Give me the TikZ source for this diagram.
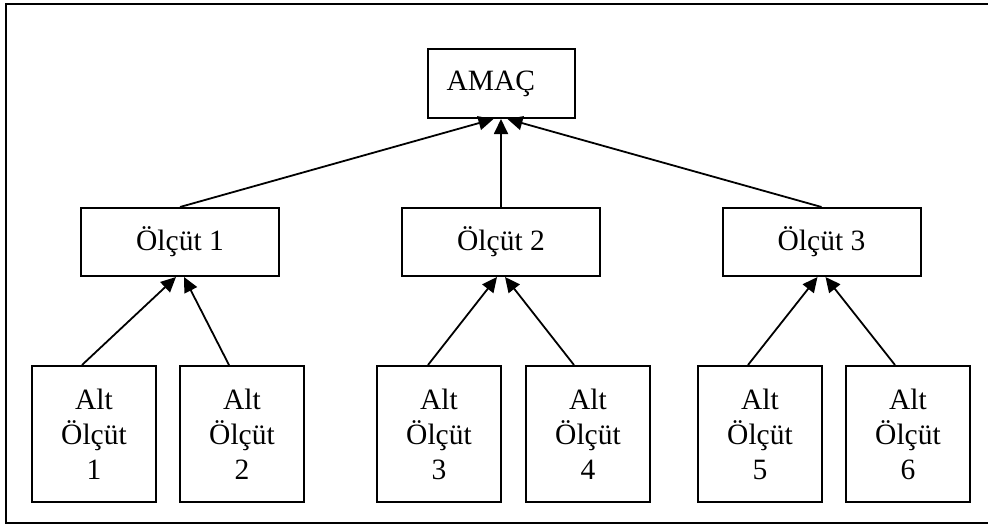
\documentclass[tikz,border=0pt]{standalone}
\usepackage{fontspec}
\setmainfont{Liberation Serif}
\usetikzlibrary{arrows.meta}
\begin{document}
\begin{tikzpicture}[x=1pt,y=-1pt,
  box/.style={draw=black,line width=2pt,inner sep=0pt,font=\fontsize{29.5}{35}\selectfont,align=center},
  crit/.style={box,minimum width=198pt,minimum height=68pt},
  sub/.style={box,minimum width=124pt,minimum height=136pt},
  arr/.style={line width=1.8pt,-{Triangle[length=15pt,width=14pt]}}]
\useasboundingbox (0,0) rectangle (988,525);
\draw[line width=2.4pt] (6,4) rectangle (1000,523);
\node[box,minimum width=147pt,minimum height=69pt,text width=109pt,inner xsep=19pt,align=left] (amac) at (501,83.5) {AMAÇ};
\node[crit] (o1) at (180,242) {Ölçüt 1};
\node[crit] (o2) at (501,242) {Ölçüt 2};
\node[crit] (o3) at (821.5,242) {Ölçüt 3};
\node[sub] (a1) at (94,434) {Alt\\Ölçüt\\1};
\node[sub] (a2) at (242,434) {Alt\\Ölçüt\\2};
\node[sub] (a3) at (439,434) {Alt\\Ölçüt\\3};
\node[sub] (a4) at (588,434) {Alt\\Ölçüt\\4};
\node[sub] (a5) at (760,434) {Alt\\Ölçüt\\5};
\node[sub] (a6) at (908,434) {Alt\\Ölçüt\\6};
\draw[arr] (o1.north) -- ([xshift=-7.5pt]amac.south);
\draw[arr] (o2.north) -- (amac.south);
\draw[arr] (o3.north) -- ([xshift=6.5pt]amac.south);
\draw[arr] ([xshift=-12pt]a1.north) -- ([xshift=-4pt]o1.south);
\draw[arr] ([xshift=-13pt]a2.north) -- ([xshift=4pt]o1.south);
\draw[arr] ([xshift=-11pt]a3.north) -- ([xshift=-4pt]o2.south);
\draw[arr] ([xshift=-14pt]a4.north) -- ([xshift=4pt]o2.south);
\draw[arr] ([xshift=-12pt]a5.north) -- ([xshift=-4pt]o3.south);
\draw[arr] ([xshift=-13pt]a6.north) -- ([xshift=4pt]o3.south);
\end{tikzpicture}
\end{document}
